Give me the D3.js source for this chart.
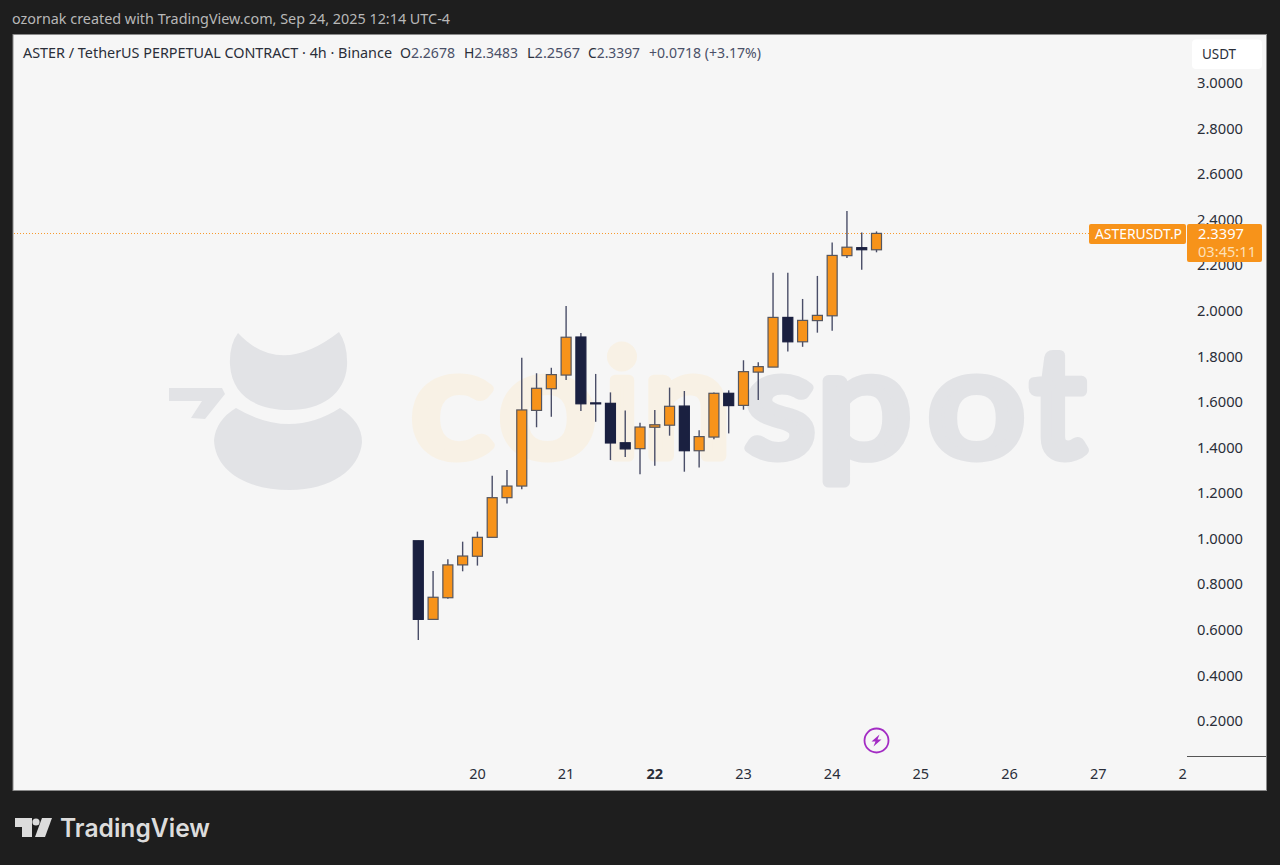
<!DOCTYPE html>
<html><head><meta charset="utf-8">
<script src="https://cdn.jsdelivr.net/npm/d3@7"></script>
<style>html,body{margin:0;padding:0;background:#1e1e1e;overflow:hidden}svg{display:block}</style>
</head><body><svg id="c" width="1280" height="865"></svg>
<script>
const opens  = [0.991,0.646,0.741,0.885,0.923,1.006,1.180,1.231,1.563,1.658,1.718,1.885,1.596,1.594,1.421,1.395,1.489,1.498,1.582,1.386,1.446,1.638,1.585,1.731,1.753,1.971,1.864,1.957,1.978,2.242,2.277,2.2678];
const highs  = [0.991,0.858,0.910,0.987,1.031,1.276,1.301,1.794,1.726,1.750,2.021,1.903,1.723,1.642,1.562,1.509,1.565,1.663,1.648,1.476,1.642,1.651,1.783,1.774,2.167,2.167,2.052,2.153,2.300,2.438,2.344,2.3483];
const lows   = [0.555,0.646,0.737,0.857,0.882,1.006,1.155,1.217,1.489,1.535,1.696,1.560,1.513,1.345,1.359,1.283,1.320,1.452,1.294,1.312,1.436,1.462,1.566,1.609,1.753,1.821,1.842,1.904,1.913,2.232,2.180,2.2567];
const closes = [0.646,0.743,0.885,0.924,1.006,1.180,1.231,1.565,1.660,1.720,1.884,1.592,1.592,1.420,1.394,1.490,1.500,1.581,1.386,1.448,1.638,1.584,1.733,1.755,1.971,1.864,1.958,1.980,2.243,2.279,2.268,2.3397];
const priceTicks = [3.0,2.8,2.6,2.4,2.2,2.0,1.8,1.6,1.4,1.2,1.0,0.8,0.6,0.4,0.2];
const dayLabels = ["20","21","22","23","24","25","26","27","28"];
const dayIndex  = [4,10,16,22,28,34,40,46,52];
const lastPrice = 2.3397;

const svg = d3.select("#c");
const FONT = "'Noto Sans',sans-serif";
const x = d3.scaleLinear().domain([0,52]).range([418.3,1186.9]);
const y = d3.scaleLinear().domain([0,3]).range([766.6,82.9]);
const label=(px,py,txt,fill,len)=>{const t=svg.append("text").attr("x",px).attr("y",py).attr("fill",fill).attr("font-family",FONT).attr("font-size",14.5).text(txt);if(len)t.attr("textLength",len).attr("lengthAdjust","spacingAndGlyphs");return t;};

svg.append("rect").attr("width",1280).attr("height",865).attr("fill","#1e1e1e");
svg.append("rect").attr("x",13).attr("y",34.5).attr("width",1253.5).attr("height",756).attr("fill","#f6f6f6").attr("stroke","#8a8a8a").attr("stroke-width",1);
label(12,24,"ozornak created with TradingView.com, Sep 24, 2025 12:14 UTC-4","#b8b8b8",438);

// watermark
const wm = svg.append("g").attr("class","watermark");
const gr="#e2e3e6", cr="#f8f1e5";
wm.append("path").attr("fill",gr).attr("d","M238,333 Q280,378 339,332 Q348,345 347,366 C345,395 320,410 290,410 C255,410 232,395 230,365 Q229,345 238,333Z");
wm.append("path").attr("fill",gr).attr("d","M236,408 Q290,440 340,408 Q362,422 362,442 C360,470 330,490 290,490 C245,490 215,470 214,440 Q216,420 236,408Z");
wm.append("path").attr("fill",gr).attr("d","M169,388 L222,388 L225,394 L205,419 L191,418 L202,401 L169,401Z");
const wmLetters=[["c",411,cr,1.14],["o",499,cr,1.14],["i",604,cr,1],["n",643,cr,1.05],["s",745,gr,1.08],["p",817,gr,1.12],["o",928,gr,1.14],["t",1031,gr,1]];
wm.selectAll("text.l").data(wmLetters).join("text").attr("class","l").attr("transform",d=>`translate(${d[1]},456) scale(${d[3]},1)`).attr("fill",d=>d[2]).attr("stroke",d=>d[2]).attr("stroke-width",11).attr("stroke-linejoin","round").attr("font-family","Lato,sans-serif").attr("font-weight",400).attr("font-size",150).text(d=>d[0]);

// last price line
svg.append("line").attr("x1",14).attr("x2",1090).attr("y1",Math.round(y(lastPrice))+0.5).attr("y2",Math.round(y(lastPrice))+0.5).attr("stroke","#f79a2e").attr("stroke-width",1).attr("stroke-dasharray","1 2").attr("shape-rendering","crispEdges");

// candles
const n=opens.length, idx=d3.range(n);
const bw=10;
svg.append("g").selectAll("line").data(idx).join("line")
 .attr("x1",i=>x(i)).attr("x2",i=>x(i)).attr("y1",i=>y(highs[i])).attr("y2",i=>y(lows[i]))
 .attr("stroke","#4a4e68").attr("stroke-width",1.4);
svg.append("g").selectAll("rect").data(idx).join("rect")
 .attr("x",i=>x(i)-bw/2).attr("width",bw)
 .attr("y",i=>y(Math.max(opens[i],closes[i])))
 .attr("height",i=>Math.max(1,Math.abs(y(opens[i])-y(closes[i]))))
 .attr("fill",i=>closes[i]>=opens[i]?"#f7931a":"#1a2040")
 .attr("stroke",i=>closes[i]>=opens[i]?"#56565e":"#1a2040").attr("stroke-width",1.2);

// price axis
const yAxis=d3.axisRight(y).tickValues(priceTicks).tickFormat(d3.format(".4f")).tickSize(0).tickPadding(0);
const ya=svg.append("g").attr("transform","translate(1197,0)").call(yAxis);
ya.select(".domain").remove();
ya.selectAll("text").attr("fill","#2a2e39").attr("font-family",FONT).attr("font-size",14.5).attr("dy","0.32em").attr("textLength",46).attr("lengthAdjust","spacingAndGlyphs");

// time axis
svg.append("defs").append("clipPath").attr("id","tc").append("rect").attr("x",14).attr("y",760).attr("width",1173).attr("height",28);
const xa=svg.append("g").attr("clip-path","url(#tc)").append("g").attr("transform","translate(0,774)");
xa.selectAll("text").data(dayIndex).join("text").attr("x",i=>x(i)).attr("y",5).attr("text-anchor","middle")
 .attr("fill","#2a2e39").attr("font-family",FONT).attr("font-size",14.5).attr("font-weight",(d,i)=>i==2?700:400).text((d,i)=>dayLabels[i]);
svg.append("line").attr("x1",1187).attr("x2",1266).attr("y1",756.5).attr("y2",756.5).attr("stroke","#555").attr("stroke-width",1);

// USDT box
svg.append("rect").attr("x",1192).attr("y",39.5).attr("width",70).attr("height",29.5).attr("rx",4).attr("fill","#fff");
label(1202,59,"USDT","#2a2e39",34);

// labels
svg.append("rect").attr("x",1089).attr("y",224).attr("width",97).attr("height",20).attr("rx",2).attr("fill","#f7931a");
label(1095,239,"ASTERUSDT.P","#fff",87);
svg.append("rect").attr("x",1187).attr("y",224).attr("width",75).attr("height",38).attr("rx",2).attr("fill","#f7931a");
label(1198,239,"2.3397","#fff",46);
label(1198,257,"03:45:11","#fde0b8",58);

// legend
label(23,58,"ASTER / TetherUS PERPETUAL CONTRACT · 4h · Binance","#2a2e39",369);
const legendParts=[["O",400,"2.2678",55],["H",464,"2.3483",54],["L",527,"2.2567",53],["C",588,"2.3397",52]];
legendParts.forEach(p=>{
 const t=svg.append("text").attr("x",p[1]).attr("y",58).attr("font-family",FONT).attr("font-size",14.5).attr("fill","#2a2e39").attr("textLength",p[3]).attr("lengthAdjust","spacingAndGlyphs");
 t.append("tspan").text(p[0]); t.append("tspan").attr("fill","#4a5068").text(p[2]);
});
label(649,58,"+0.0718 (+3.17%)","#4a5068",112);

// event icon
const ic=svg.append("g").attr("transform","translate(876.5,740.5)");
ic.append("circle").attr("r",12).attr("fill","none").attr("stroke","#a32cc4").attr("stroke-width",1.8);
ic.append("path").attr("fill","#a32cc4").attr("d","M3,-6 L-5,1 L-1,1 L-3,6 L5,-1 L1,-1Z");

// TradingView logo
const lo=svg.append("g").attr("fill","#dcdcdc");
lo.append("path").attr("d","M15,818 H32 V837 H22 V827 H15Z");
lo.append("circle").attr("cx",36).attr("cy",822).attr("r",3.6);
lo.append("path").attr("d","M42,818 H52 L45,837 H35Z");
svg.append("text").attr("x",60).attr("y",837).attr("fill","#dcdcdc").attr("font-family","Inter,sans-serif").attr("font-weight",600).attr("font-size",25).attr("textLength",150).attr("lengthAdjust","spacingAndGlyphs").text("TradingView");
</script></body></html>
